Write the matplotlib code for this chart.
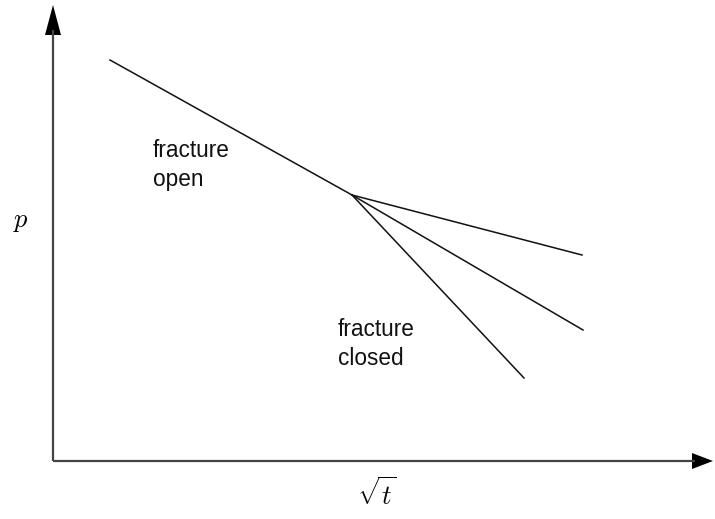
import matplotlib
matplotlib.use("Agg")
import matplotlib.pyplot as plt

plt.rcParams['mathtext.fontset'] = 'cm'

# Schematic values (in sqrt(t) / p plot units)
trunk_x = [110, 352]
trunk_p = [60, 195]
branch_end_x = [582, 583, 524]
branch_end_p = [255, 330, 378]

labels = ["fracture\nopen", "fracture\nclosed"]
label_x = [153, 338]
label_y = [139, 318]

fig = plt.figure(figsize=(7.15, 5.19), dpi=100)
ax = fig.add_axes([0, 0, 1, 1])
ax.set_xlim(0, 715)
ax.set_ylim(519, 0)
ax.axis('off')

# axes with arrows
ax.plot([53, 53], [461, 30], color='#444444', lw=1.6, solid_capstyle='butt')
ax.plot([53, 695], [461, 461], color='#444444', lw=1.6, solid_capstyle='butt')
ax.fill([45, 61, 53], [35, 35, 5], color='black', lw=0)
ax.fill([692, 692, 713], [453, 469, 461], color='black', lw=0)

ax.plot(trunk_x, trunk_p, color='#111111', lw=1.1)
for ex, ep in zip(branch_end_x, branch_end_p):
    ax.plot([trunk_x[1], ex], [trunk_p[1], ep], color='#111111', lw=1.1)

for t, x, y in zip(labels, label_x, label_y):
    ax.text(x, y, t, fontsize=16.3, family='Liberation Sans', va='top', ha='left',
            linespacing=1.35, color='#111111')

ax.text(21, 221, r'$p$', fontsize=19, ha='center', va='center')
ax.text(377, 495, r'$\sqrt{t}$', fontsize=19, ha='center', va='center')

fig.savefig('out.png', dpi=100)
